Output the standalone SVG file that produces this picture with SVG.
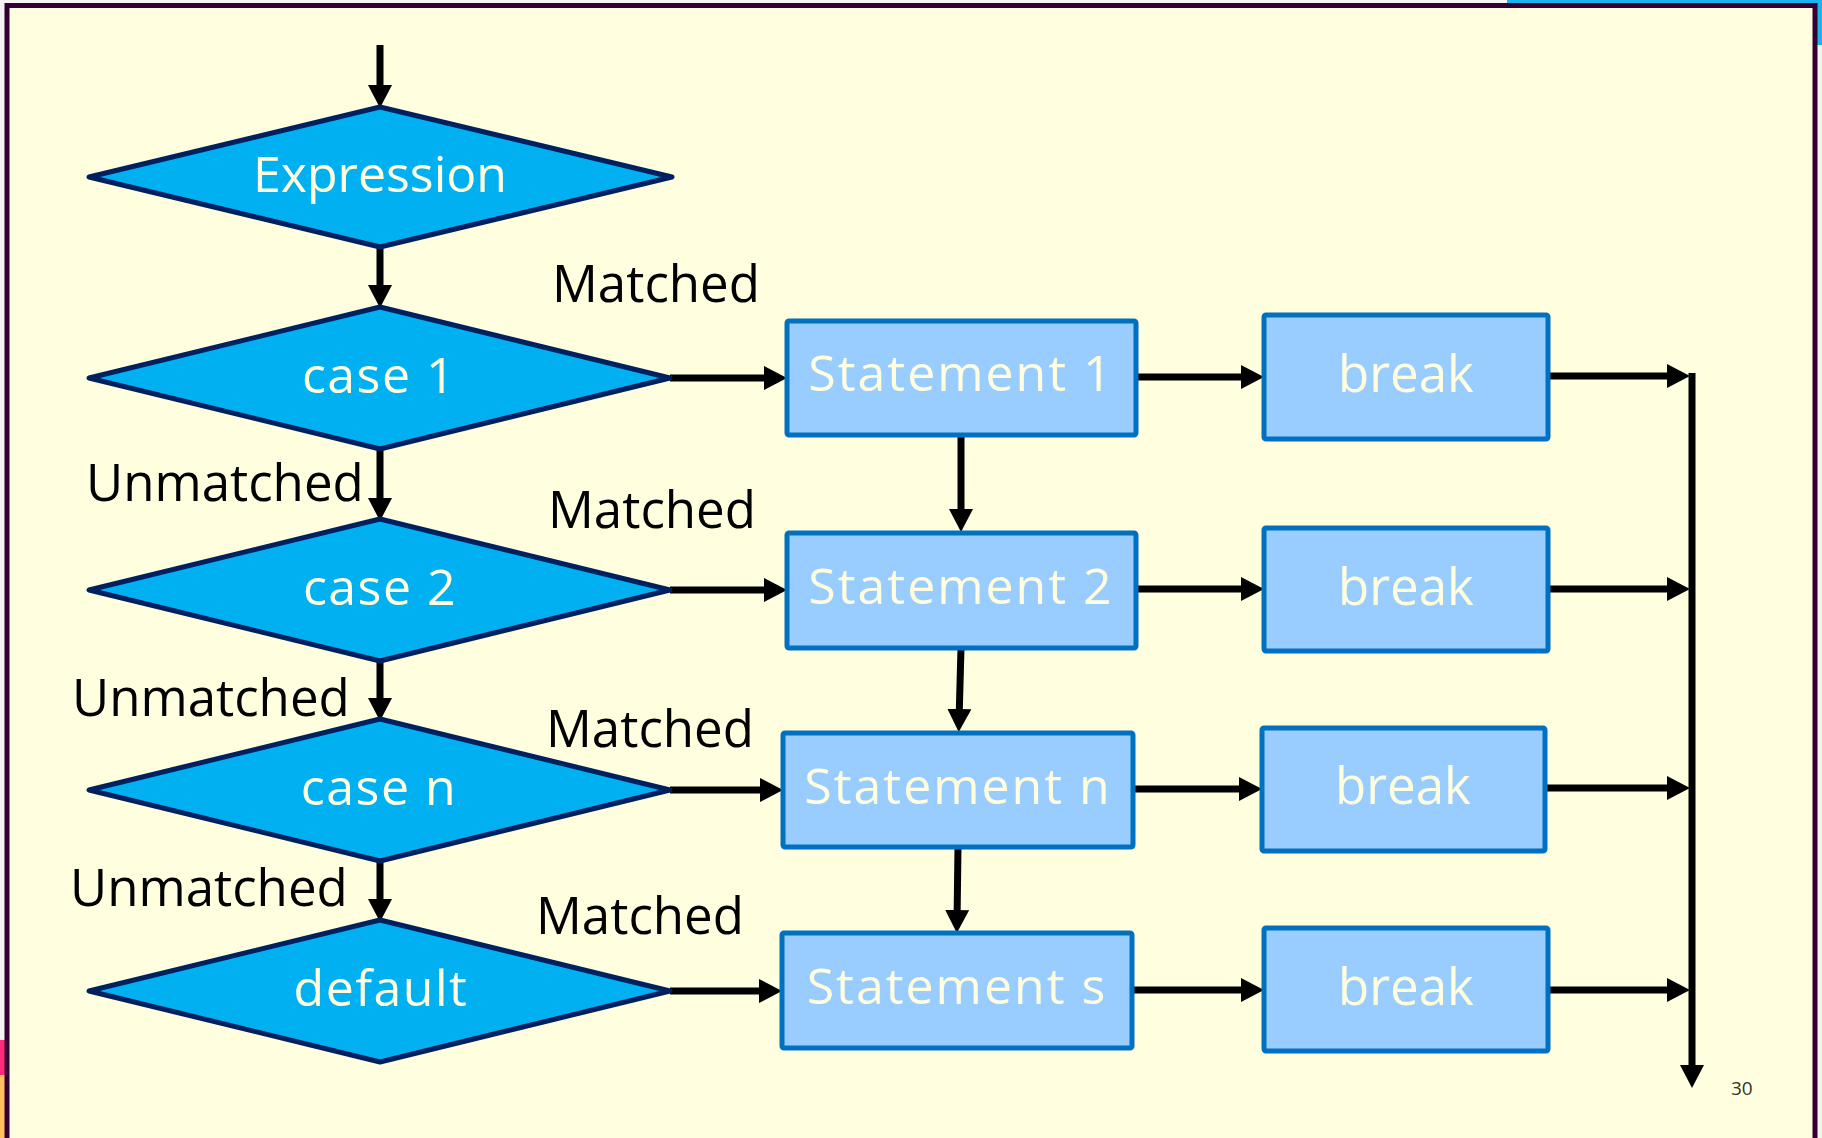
<svg xmlns="http://www.w3.org/2000/svg" width="1822" height="1138" viewBox="0 0 1822 1138">
<style>
.dia{fill:#00B0F0;stroke:#002060;stroke-width:5;stroke-linejoin:round}
.box{fill:#99CCFF;stroke:#0070C0;stroke-width:5}
.t{font-family:"Open Sans","Noto Sans",sans-serif;fill:#FFFFE0;text-anchor:middle}
.dt{font-size:50px;letter-spacing:1.5px}
.et{font-size:50px}
.st{font-size:50px;letter-spacing:2px}
.bt{font-size:51px}
.lbl{font-family:"Open Sans","Noto Sans",sans-serif;font-size:51px;fill:#000}
.c line,.c path{stroke:#000;stroke-width:7;fill:none;marker-end:url(#ah)}
</style>
<defs>
<marker id="ah" markerUnits="userSpaceOnUse" markerWidth="24" markerHeight="24" refX="12" refY="12" orient="auto" viewBox="0 0 24 24">
<path d="M0,0 L23,12 L0,24 z" fill="#000"/>
</marker>
</defs>
<rect x="0" y="0" width="1822" height="1138" fill="#F4F4F4"/>
<rect x="1507" y="0" width="315" height="4" fill="#1CB4EE"/>
<rect x="1816" y="0" width="6" height="45" fill="#1CB4EE"/>
<rect x="0" y="1040" width="5" height="35" fill="#FF2A7A"/>
<rect x="0" y="1075" width="5" height="63" fill="#FFC060"/>
<path d="M7,1138 V5.5 H1815 V1138" fill="#FFFFE0" stroke="#330033" stroke-width="5"/>

<g class="c" id="connectors">
<line x1="380" y1="45" x2="380" y2="97"/>
<line x1="380" y1="248" x2="380" y2="297"/>
<line x1="380" y1="449" x2="380" y2="510"/>
<line x1="380" y1="661" x2="380" y2="710"/>
<line x1="380" y1="861" x2="380" y2="911"/>
<line x1="670" y1="378" x2="776" y2="378"/>
<line x1="670" y1="590" x2="776" y2="590"/>
<line x1="670" y1="790" x2="772" y2="790"/>
<line x1="670" y1="991" x2="771" y2="991"/>
<line x1="1136" y1="377" x2="1253" y2="377"/>
<line x1="1136" y1="589" x2="1253" y2="589"/>
<line x1="1133" y1="789" x2="1251" y2="789"/>
<line x1="1132" y1="990" x2="1253" y2="990"/>
<line x1="1548" y1="376" x2="1679" y2="376"/>
<line x1="1548" y1="589" x2="1679" y2="589"/>
<line x1="1545" y1="788" x2="1679" y2="788"/>
<line x1="1548" y1="990" x2="1679" y2="990"/>
<line x1="961" y1="435" x2="961" y2="521"/>
<line x1="961" y1="648" x2="959" y2="721"/>
<line x1="958" y1="847" x2="957" y2="922"/>
<path d="M1692,373 V1077"/>
</g>

<g id="expression"><polygon class="dia" points="380,107 672,177 380,247 89,177"/><text class="t et" x="380" y="192">Expression</text></g>
<g id="case1"><polygon class="dia" points="380,307 670,378 380,449 89,378"/><text class="t dt" x="379" y="393">case 1</text></g>
<g id="case2"><polygon class="dia" points="380,519 670,590 380,661 89,590"/><text class="t dt" x="380" y="605">case 2</text></g>
<g id="casen"><polygon class="dia" points="380,719 670,790 380,861 89,790"/><text class="t dt" x="379" y="805">case n</text></g>
<g id="default"><polygon class="dia" points="380,920 670,991 380,1062 89,991"/><text class="t dt" x="381" y="1006">default</text></g>

<g id="stmt1"><rect class="box" x="787" y="321" width="349" height="114" rx="2"/><text class="t st" x="961" y="391">Statement 1</text></g>
<g id="stmt2"><rect class="box" x="787" y="533" width="349" height="115" rx="2"/><text class="t st" x="961" y="604">Statement 2</text></g>
<g id="stmtn"><rect class="box" x="783" y="733" width="350" height="114" rx="2"/><text class="t st" x="958" y="804">Statement n</text></g>
<g id="stmts"><rect class="box" x="782" y="933" width="350" height="115" rx="2"/><text class="t st" x="957" y="1004">Statement s</text></g>

<g id="break1"><rect class="box" x="1264" y="315" width="284" height="124" rx="2"/><text class="t bt" x="1406" y="392">break</text></g>
<g id="break2"><rect class="box" x="1264" y="528" width="284" height="123" rx="2"/><text class="t bt" x="1406" y="605">break</text></g>
<g id="breakn"><rect class="box" x="1262" y="728" width="283" height="123" rx="2"/><text class="t bt" x="1403" y="804">break</text></g>
<g id="breaks"><rect class="box" x="1264" y="928" width="284" height="123" rx="2"/><text class="t bt" x="1406" y="1005">break</text></g>

<g id="labels">
<text class="lbl" x="552" y="302">Matched</text>
<text class="lbl" x="86" y="501">Unmatched</text>
<text class="lbl" x="548" y="528">Matched</text>
<text class="lbl" x="72" y="716">Unmatched</text>
<text class="lbl" x="546" y="747">Matched</text>
<text class="lbl" x="70" y="906">Unmatched</text>
<text class="lbl" x="536" y="934">Matched</text>
<text x="1731" y="1095" font-family="'Open Sans','Noto Sans',sans-serif" font-size="19" fill="#333">30</text>
</g>
</svg>
